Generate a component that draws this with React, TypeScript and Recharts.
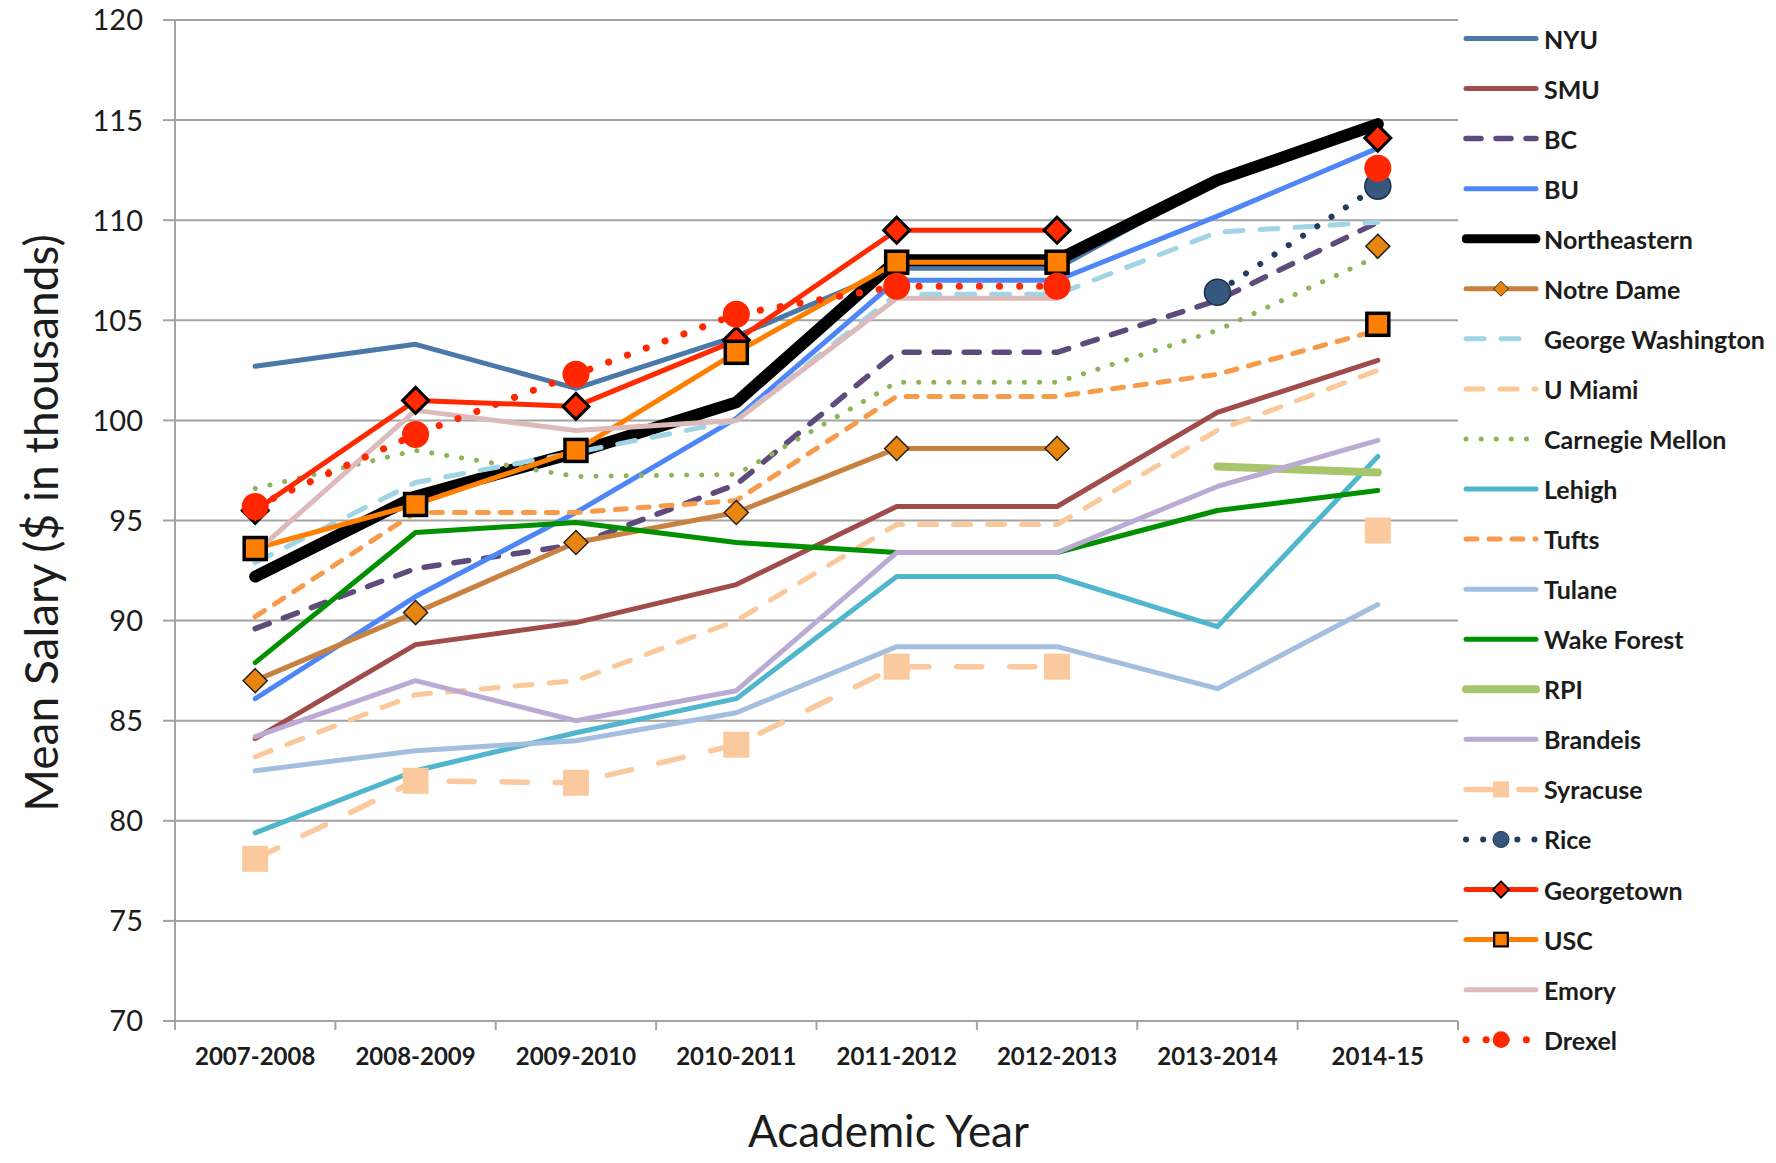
import React from 'react';
import { LineChart, Line, XAxis, YAxis, CartesianGrid, Label } from 'recharts';

const YEARS = ['2007-2008', '2008-2009', '2009-2010', '2010-2011', '2011-2012', '2012-2013', '2013-2014', '2014-15'];
const Y_TICKS = [70, 75, 80, 85, 90, 95, 100, 105, 110, 115, 120];

const NYU = [102.7, 103.8, 101.6, 104.2, 107.6, 107.6, 112.0, 114.6];
const SMU = [84.1, 88.8, 89.9, 91.8, 95.7, 95.7, 100.4, 103.0];
const BC = [89.6, 92.6, 93.8, 96.8, 103.4, 103.4, 106.0, 109.9];
const BU = [86.1, 91.2, 95.4, 100.1, 107.0, 107.0, 110.2, 113.6];
const NORTHEASTERN = [92.2, 96.2, 98.4, 100.9, 108.0, 108.0, 112.0, 114.8];
const NOTRE_DAME = [87.0, 90.4, 93.9, 95.4, 98.6, 98.6, null, 108.7];
const GEORGE_WASHINGTON = [92.9, 96.9, 98.4, 100.0, 106.3, 106.3, 109.4, 109.9];
const U_MIAMI = [83.2, 86.3, 87.0, 90.0, 94.8, 94.8, 99.5, 102.5];
const CARNEGIE_MELLON = [96.6, 98.5, 97.2, 97.3, 101.9, 101.9, 104.5, 108.2];
const LEHIGH = [79.4, 82.5, 84.4, 86.1, 92.2, 92.2, 89.7, 98.2];
const TUFTS = [90.2, 95.4, 95.4, 96.0, 101.2, 101.2, 102.3, 104.5];
const TULANE = [82.5, 83.5, 84.0, 85.4, 88.7, 88.7, 86.6, 90.8];
const WAKE_FOREST = [87.9, 94.4, 94.9, 93.9, 93.4, 93.4, 95.5, 96.5];
const RPI = [null, null, null, null, null, null, 97.7, 97.4];
const BRANDEIS = [84.2, 87.0, 85.0, 86.5, 93.4, 93.4, 96.7, 99.0];
const SYRACUSE = [78.1, 82.0, 81.9, 83.8, 87.7, 87.7, null, 94.5];
const RICE = [null, null, null, null, null, null, 106.4, 111.7];
const GEORGETOWN = [95.5, 101.0, 100.7, 104.0, 109.5, 109.5, null, 114.1];
const USC = [93.6, 95.8, 98.5, 103.4, 107.9, 107.9, null, 104.8];
const EMORY = [93.4, 100.5, 99.5, 100.0, 106.1, 106.1, null, null];
const DREXEL = [95.7, 99.3, 102.3, 105.3, 106.7, 106.7, null, 112.6];

type MarkerKind = 'diamond' | 'square' | 'circle';
interface Marker { kind: MarkerKind; size: number; fill: string; stroke: string; sw: number; }
interface Series {
  id: string; name: string; values: (number | null)[]; color: string; width: number;
  dash?: string; marker?: Marker;
}

const SERIES: Series[] = [
  { id: 'nyu', name: 'NYU', values: NYU, color: '#4a78a8', width: 5 },
  { id: 'smu', name: 'SMU', values: SMU, color: '#a04c4a', width: 5 },
  { id: 'bc', name: 'BC', values: BC, color: '#5f4b7b', width: 5.5, dash: '15 15' },
  { id: 'bu', name: 'BU', values: BU, color: '#4f86f7', width: 5 },
  { id: 'neu', name: 'Northeastern', values: NORTHEASTERN, color: '#000000', width: 12 },
  { id: 'nd', name: 'Notre Dame', values: NOTRE_DAME, color: '#c9813f', width: 5,
    marker: { kind: 'diamond', size: 12, fill: '#e8850e', stroke: '#222', sw: 1.5 } },
  { id: 'gw', name: 'George Washington', values: GEORGE_WASHINGTON, color: '#a1d4e4', width: 5, dash: '18 17' },
  { id: 'um', name: 'U Miami', values: U_MIAMI, color: '#fbc89a', width: 5, dash: '17 17' },
  { id: 'cmu', name: 'Carnegie Mellon', values: CARNEGIE_MELLON, color: '#8fb35a', width: 5, dash: '0.1 15' },
  { id: 'lehigh', name: 'Lehigh', values: LEHIGH, color: '#50b6ce', width: 5 },
  { id: 'tufts', name: 'Tufts', values: TUFTS, color: '#f79b4b', width: 5, dash: '11 12' },
  { id: 'tulane', name: 'Tulane', values: TULANE, color: '#a3bedf', width: 5 },
  { id: 'wf', name: 'Wake Forest', values: WAKE_FOREST, color: '#009000', width: 5 },
  { id: 'rpi', name: 'RPI', values: RPI, color: '#a7c66c', width: 8 },
  { id: 'brandeis', name: 'Brandeis', values: BRANDEIS, color: '#bbaad4', width: 5 },
  { id: 'syr', name: 'Syracuse', values: SYRACUSE, color: '#fac99d', width: 5.5, dash: '25 28',
    marker: { kind: 'square', size: 13, fill: '#fac99d', stroke: 'none', sw: 0 } },
  { id: 'rice', name: 'Rice', values: RICE, color: '#1f3d5e', width: 6, dash: '0.1 17',
    marker: { kind: 'circle', size: 13, fill: '#37587e', stroke: '#1b2f45', sw: 1.5 } },
  { id: 'gtown', name: 'Georgetown', values: GEORGETOWN, color: '#ff2a00', width: 5,
    marker: { kind: 'diamond', size: 13, fill: '#ff2a00', stroke: '#000', sw: 3 } },
  { id: 'usc', name: 'USC', values: USC, color: '#ff8000', width: 5,
    marker: { kind: 'square', size: 11, fill: '#ff8000', stroke: '#000', sw: 3.5 } },
  { id: 'emory', name: 'Emory', values: EMORY, color: '#dcbaba', width: 5 },
  { id: 'drexel', name: 'Drexel', values: DREXEL, color: '#ff2600', width: 7, dash: '0.1 20',
    marker: { kind: 'circle', size: 13.5, fill: '#ff2600', stroke: 'none', sw: 0 } },
];

const rows = YEARS.map((year, i) => {
  const row: Record<string, any> = { x: i + 0.5, year };
  SERIES.forEach(s => { row[s.id] = s.values[i]; });
  return row;
});

const W = 1776;
const H = 1163;
const M = { top: 20, right: 318, bottom: 82, left: 0 };
const Y_AXIS_W = 175;
const PLOT_W = W - M.right - M.left - Y_AXIS_W;
const BAND = PLOT_W / YEARS.length;
const FONT = "Lato, 'Open Sans', sans-serif";
const TEXT = '#1c1c1c';
const GRID = '#a3a3a3';

function markerShape(m: Marker, cx: number, cy: number, scale = 1, key?: string) {
  const s = m.size * scale;
  const sw = m.sw * scale;
  if (m.kind === 'diamond') {
    return <polygon key={key} points={`${cx},${cy - s} ${cx + s},${cy} ${cx},${cy + s} ${cx - s},${cy}`}
      fill={m.fill} stroke={m.stroke} strokeWidth={sw} strokeLinejoin="miter" />;
  }
  if (m.kind === 'square') {
    return <rect key={key} x={cx - s} y={cy - s} width={2 * s} height={2 * s}
      fill={m.fill} stroke={m.stroke} strokeWidth={sw} />;
  }
  return <circle key={key} cx={cx} cy={cy} r={s} fill={m.fill} stroke={m.stroke} strokeWidth={sw} />;
}

const makeDot = (s: Series) => (props: any) => {
  const { cx, cy, index, payload } = props;
  const k = `${s.id}-dot-${index}`;
  if (!s.marker || cx == null || cy == null || payload?.[s.id] == null) return <g key={k} />;
  return markerShape(s.marker, cx, cy, 1, k);
};

const XTick = (props: any) => {
  const { x, y, payload } = props;
  const i = payload.value;
  if (i >= YEARS.length) return <g />;
  return (
    <text x={x + BAND / 2} y={y + 35} textAnchor="middle" fontFamily={FONT} fontWeight={700}
      fontSize={24} fill={TEXT}>
      {YEARS[i]}
    </text>
  );
};

const YTick = (props: any) => {
  const { x, y, payload } = props;
  return (
    <text x={x} y={y} dy="0.36em" textAnchor="end" fontFamily={FONT} fontSize={29} fill={TEXT}>
      {payload.value}
    </text>
  );
};

const LegendBox: React.FC = () => {
  const top = 38.5;
  const step = 50.06;
  return (
    <svg width={314} height={H} style={{ position: 'absolute', left: 1462, top: 0 }}>
      {SERIES.map((s, i) => {
        const y = top + i * step;
        return (
          <g key={s.id}>
            <line x1={4} x2={74} y1={y} y2={y} stroke={s.color} strokeWidth={Math.min(s.width, 9)}
              strokeDasharray={s.dash} strokeLinecap="round" />
            {s.marker && markerShape(s.marker, 39, y, 0.62)}
            <text x={82} y={y} dominantBaseline="central" fontFamily={FONT} fontWeight={700}
              fontSize={25} fill={TEXT}>{s.name}</text>
          </g>
        );
      })}
    </svg>
  );
};

export default function App() {
  return (
    <div style={{ position: 'absolute', left: 0, top: 0, width: W, height: H, background: '#fff' }}>
      <LineChart width={W} height={H} data={rows} margin={M}>
        <CartesianGrid vertical={false} stroke={GRID} strokeWidth={2} />
        <XAxis type="number" dataKey="x" domain={[0, YEARS.length]}
          ticks={YEARS.map((_, i) => i).concat(YEARS.length)} interval={0}
          tick={<XTick />} tickSize={9} tickMargin={0} height={60}
          axisLine={{ stroke: GRID, strokeWidth: 2 }} tickLine={{ stroke: GRID, strokeWidth: 2 }}>
          <Label content={(p: any) => {
            const vb = p.viewBox;
            return (
              <text x={vb.x + vb.width / 2 + 72} y={vb.y + 126} textAnchor="middle"
                fontFamily={FONT} fontSize={44} fill={TEXT}>Academic Year</text>
            );
          }} />
        </XAxis>
        <YAxis type="number" domain={[70, 120]} ticks={Y_TICKS} interval={0} width={Y_AXIS_W}
          tickSize={12} tickMargin={20} tick={<YTick />}
          axisLine={{ stroke: GRID, strokeWidth: 2 }} tickLine={{ stroke: GRID, strokeWidth: 2 }}>
          <Label content={(p: any) => {
            const vb = p.viewBox;
            const cx = vb.x + 40;
            const cy = 523;
            return (
              <text x={cx} y={cy} transform={`rotate(-90 ${cx} ${cy})`} textAnchor="middle"
                dominantBaseline="central" fontFamily={FONT} fontSize={46} fill={TEXT}>
                Mean Salary ($ in thousands)
              </text>
            );
          }} />
        </YAxis>
        {SERIES.map(s => (
          <Line key={s.id} type="linear" dataKey={s.id} name={s.name} stroke={s.color}
            strokeWidth={s.width} strokeDasharray={s.dash} strokeLinecap="round" strokeLinejoin="round"
            dot={s.marker ? makeDot(s) : false} activeDot={false} connectNulls={false}
            isAnimationActive={false} />
        ))}
      </LineChart>
      <LegendBox />
    </div>
  );
}
